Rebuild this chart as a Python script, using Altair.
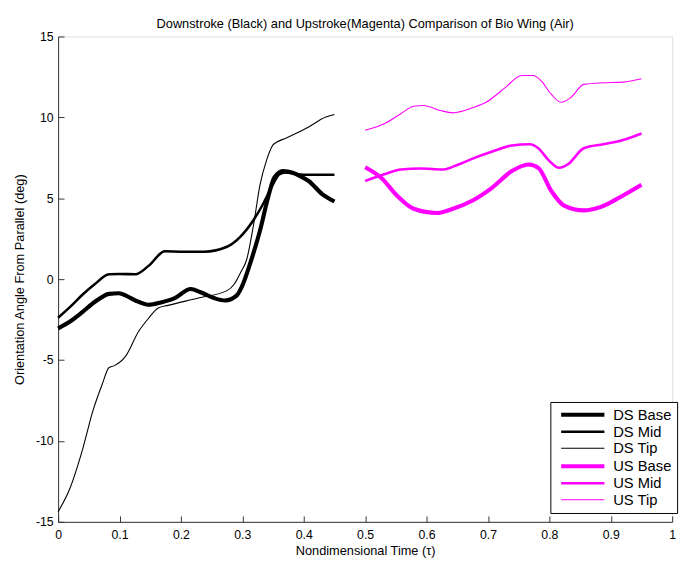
import altair as alt
import pandas as pd

series_names = ["DS Base", "DS Mid", "DS Tip", "US Base", "US Mid", "US Tip"]
series_colors = ["#000000", "#000000", "#000000", "#ff00ff", "#ff00ff", "#ff00ff"]
series_widths = [4.2, 2.6, 1.1, 4.2, 2.6, 1.1]

ds_base_x = [0, 0.02, 0.04, 0.06, 0.083, 0.099, 0.112, 0.126, 0.147, 0.169, 0.19, 0.216, 0.232,
             0.254, 0.272, 0.291, 0.3, 0.313, 0.329, 0.342, 0.352, 0.366, 0.382, 0.395, 0.408, 0.43, 0.45]
ds_base_y = [-3.04, -2.6, -2.02, -1.4, -0.91, -0.87, -1.05, -1.32, -1.58, -1.42, -1.17, -0.61, -0.81,
             -1.17, -1.32, -1.0, -0.4, 1.0, 3.04, 5.06, 6.27, 6.68, 6.58, 6.35, 6.07, 5.26, 4.8]

ds_mid_x = [0, 0.02, 0.04, 0.06, 0.083, 0.1, 0.126, 0.147, 0.174, 0.2, 0.238, 0.275, 0.297, 0.318,
            0.334, 0.35, 0.36, 0.37, 0.4, 0.45]
ds_mid_y = [-2.39, -1.7, -0.95, -0.3, 0.3, 0.32, 0.3, 0.81, 1.72, 1.7, 1.7, 2.0, 2.63, 3.64,
            4.66, 5.87, 6.48, 6.6, 6.45, 6.45]

ds_tip_x = [0, 0.019, 0.04, 0.057, 0.072, 0.083, 0.091, 0.11, 0.131, 0.147, 0.163, 0.179, 0.23,
            0.275, 0.287, 0.297, 0.307, 0.318, 0.329, 0.339, 0.35, 0.355, 0.37, 0.387, 0.408, 0.435, 0.45]
ds_tip_y = [-14.37, -12.95, -10.5, -8.1, -6.48, -5.46, -5.36, -4.76, -3.24, -2.43, -1.78, -1.62, -1.15,
            -0.71, -0.3, 0.4, 1.2, 3.3, 5.87, 7.3, 8.3, 8.45, 8.7, 9.0, 9.41, 10.0, 10.18]

us_base_x = [0.5, 0.526, 0.552, 0.579, 0.617, 0.643, 0.675, 0.707, 0.739, 0.766, 0.782, 0.803,
             0.824, 0.856, 0.883, 0.915, 0.95]
us_base_y = [6.92, 6.27, 5.16, 4.35, 4.09, 4.35, 4.86, 5.66, 6.68, 7.09, 6.88, 5.46,
             4.55, 4.25, 4.45, 5.06, 5.83]

us_mid_x = [0.5, 0.531, 0.558, 0.59, 0.627, 0.654, 0.675, 0.707, 0.739, 0.768, 0.782, 0.798,
            0.816, 0.83, 0.856, 0.888, 0.92, 0.95]
us_mid_y = [6.07, 6.48, 6.78, 6.84, 6.78, 7.12, 7.45, 7.89, 8.26, 8.34, 8.09, 7.39,
            6.88, 7.09, 8.09, 8.34, 8.6, 9.0]

us_tip_x = [0.5, 0.531, 0.558, 0.579, 0.595, 0.622, 0.643, 0.675, 0.697, 0.728, 0.755, 0.774,
            0.787, 0.803, 0.819, 0.835, 0.856, 0.888, 0.92, 0.95]
us_tip_y = [9.2, 9.6, 10.22, 10.69, 10.73, 10.43, 10.28, 10.6, 10.93, 11.84, 12.59, 12.59,
            12.24, 11.43, 10.93, 11.23, 12.04, 12.14, 12.18, 12.39]

x_ticks = [0, 0.1, 0.2, 0.3, 0.4, 0.5, 0.6, 0.7, 0.8, 0.9, 1]
y_ticks = [-15, -10, -5, 0, 5, 10, 15]

all_x = [ds_base_x, ds_mid_x, ds_tip_x, us_base_x, us_mid_x, us_tip_x]
all_y = [ds_base_y, ds_mid_y, ds_tip_y, us_base_y, us_mid_y, us_tip_y]

rows = []
for name, xs, ys in zip(series_names, all_x, all_y):
    for i, (xv, yv) in enumerate(zip(xs, ys)):
        rows.append({"series": name, "t": xv, "angle": yv, "order": i})
df = pd.DataFrame(rows)

FONT = "Liberation Sans"
W, H = 625, 494
AX = "#333333"

xscale = alt.Scale(domain=[0, 1], nice=False)
yscale = alt.Scale(domain=[-15, 15], nice=False)

legend = alt.Legend(orient="none", legendX=501, legendY=372,
                    symbolType="M-4,0H4", symbolSize=121, symbolOffset=20,
                    labelFontSize=15, labelFont=FONT, labelColor="#000000",
                    strokeColor="#000000", fillColor="#ffffff",
                    padding=5, rowPadding=0.8, labelOffset=23)

lines = alt.Chart(df).mark_line(interpolate="monotone").encode(
    x=alt.X("t:Q", scale=xscale, title="Nondimensional Time (\u03c4)",
            axis=alt.Axis(values=x_ticks, tickSize=0, labelPadding=7, titlePadding=4,
                          labelExpr="'' + datum.value",
                          labelFontSize=12.5, titleFontSize=13, grid=False,
                          domainColor=AX, labelColor="#000000", titleColor="#000000",
                          titleFontWeight="normal", labelFont=FONT, titleFont=FONT,
                          labelFlush=False)),
    y=alt.Y("angle:Q", scale=yscale, title="Orientation Angle From Parallel (deg)",
            axis=alt.Axis(values=y_ticks, tickSize=0, labelPadding=5, titlePadding=9,
                          labelExpr="'' + datum.value",
                          labelFontSize=12.5, titleFontSize=13, grid=False,
                          domainColor=AX, labelColor="#000000", titleColor="#000000",
                          titleFontWeight="normal", labelFont=FONT, titleFont=FONT,
                          labelFlush=False)),
    color=alt.Color("series:O", sort=series_names, title=None,
                    scale=alt.Scale(type="ordinal", domain=series_names, range=series_colors),
                    legend=legend),
    strokeWidth=alt.StrokeWidth("series:O", sort=series_names, title=None,
                                scale=alt.Scale(type="ordinal", domain=series_names, range=series_widths),
                                legend=legend),
    detail="series:N",
    order="order:Q",
)

ticks_layer = alt.Chart(df).mark_line(opacity=0).encode(
    x=alt.X("t:Q", scale=xscale, title=None,
            axis=alt.Axis(orient="top", offset=-H, values=x_ticks, labels=False, domain=False,
                          tickSize=6, tickColor=AX, grid=False)),
    y=alt.Y("angle:Q", scale=yscale, title=None,
            axis=alt.Axis(orient="right", offset=-W, values=y_ticks, labels=False, domain=False,
                          tickSize=6, tickColor=AX, grid=False)),
    detail="series:N",
)

chart = alt.layer(lines, ticks_layer).resolve_axis(x="independent", y="independent").properties(
    width=W, height=H,
    title=alt.Title("Downstroke (Black) and Upstroke(Magenta) Comparison of Bio Wing (Air)",
                    fontSize=13, fontWeight="normal", font=FONT, color="#000000",
                    anchor="middle", offset=0),
).configure_view(stroke=None).configure(background="#ffffff")

chart.save("out.html", embed_options={"renderer": "svg", "actions": False})
